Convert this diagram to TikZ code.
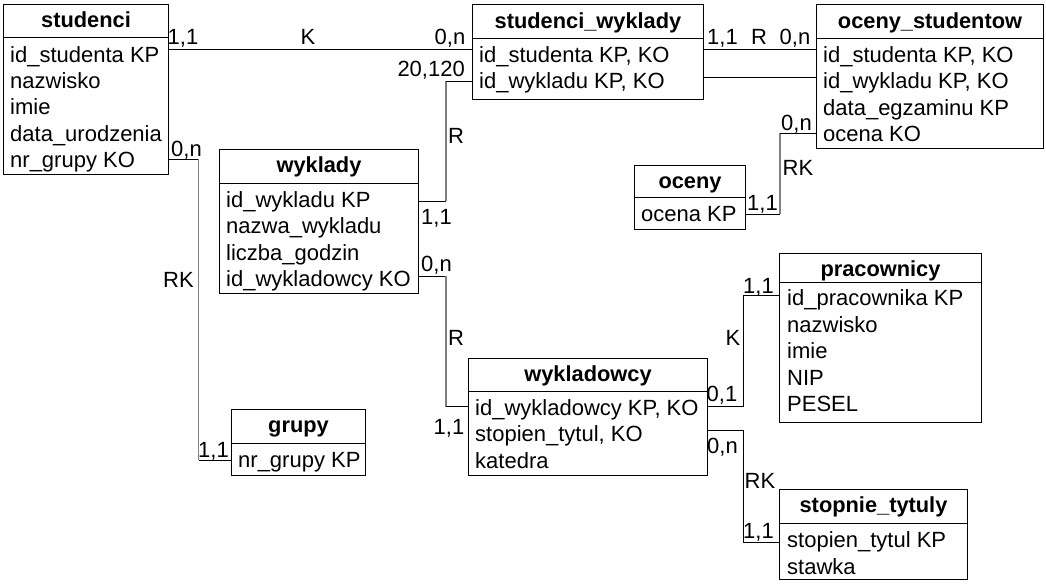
\documentclass[tikz,border=0pt]{standalone}
\usepackage{fontspec}
\setmainfont{Liberation Sans}
\begin{document}
\begin{tikzpicture}[x=1pt,y=-1pt,
  font=\fontsize{22}{26}\selectfont,
  ebox/.style={draw=black,line width=1pt,rectangle,inner sep=0pt,anchor=north west},
  etitle/.style={anchor=base,inner sep=0pt,font=\fontsize{21.8}{26}\selectfont\bfseries},
  erow/.style={anchor=base west,inner sep=0pt},
  lbl/.style={anchor=base,inner sep=0pt},
  divl/.style={line width=1pt},
  conn/.style={line width=1pt,black},
  vconn/.style={line width=1.6pt,black!50},
  vblk/.style={line width=1pt,black}]
\useasboundingbox (0,0) rectangle (1046,584);
% ---------- studenci
\node[ebox,minimum width=165,minimum height=170] (stud) at (3,4) {};
\draw[divl] (stud.west |- 0,37) -- (stud.east |- 0,37);
\node[etitle] (studT) at (stud.north |- 0,27.5) {studenci};
\node[erow] (stud1) at (10,62.3) {id\_studenta KP};
\node[erow] (stud2) at (10,88.6) {nazwisko};
\node[erow] (stud3) at (10,114.9) {imie};
\node[erow] (stud4) at (10,141.2) {data\_urodzenia};
\node[erow] (stud5) at (10,167.5) {nr\_grupy KO};
% ---------- studenci_wyklady
\node[ebox,minimum width=231,minimum height=95] (sw) at (472,4) {};
\draw[divl] (sw.west |- 0,38) -- (sw.east |- 0,38);
\node[etitle] (swT) at (sw.north |- 0,28) {studenci\_wyklady};
\node[erow] (sw1) at (479,62.5) {id\_studenta KP, KO};
\node[erow] (sw2) at (479,88.8) {id\_wykladu KP, KO};
% ---------- oceny_studentow
\node[ebox,minimum width=227,minimum height=144] (os) at (816,4) {};
\draw[divl] (os.west |- 0,38) -- (os.east |- 0,38);
\node[etitle] (osT) at (os.north |- 0,28) {oceny\_studentow};
\node[erow] (os1) at (823,62.5) {id\_studenta KP, KO};
\node[erow] (os2) at (823,88.8) {id\_wykladu KP, KO};
\node[erow] (os3) at (823,115.1) {data\_egzaminu KP};
\node[erow] (os4) at (823,141.4) {ocena KO};
% ---------- oceny
\node[ebox,minimum width=111,minimum height=64] (oc) at (634,165) {};
\draw[divl] (oc.west |- 0,197) -- (oc.east |- 0,197);
\node[etitle] (ocT) at (oc.north |- 0,188.5) {oceny};
\node[erow] (oc1) at (641,221.3) {ocena KP};
% ---------- wyklady
\node[ebox,minimum width=199,minimum height=144] (wy) at (219,149) {};
\draw[divl] (wy.west |- 0,183) -- (wy.east |- 0,183);
\node[etitle] (wyT) at (wy.north |- 0,172.5) {wyklady};
\node[erow] (wy1) at (226,207.5) {id\_wykladu KP};
\node[erow] (wy2) at (226,233.8) {nazwa\_wykladu};
\node[erow] (wy3) at (226,260.1) {liczba\_godzin};
\node[erow] (wy4) at (226,286.4) {id\_wykladowcy KO};
% ---------- pracownicy
\node[ebox,minimum width=202,minimum height=169] (pr) at (779,253) {};
\draw[divl] (pr.west |- 0,282) -- (pr.east |- 0,282);
\node[etitle] (prT) at (pr.north |- 0,276.5) {pracownicy};
\node[erow] (pr1) at (787,305.8) {id\_pracownika KP};
\node[erow] (pr2) at (787,332.3) {nazwisko};
\node[erow] (pr3) at (787,358.8) {imie};
\node[erow] (pr4) at (787,385.1) {NIP};
\node[erow] (pr5) at (787,411.5) {PESEL};
% ---------- wykladowcy
\node[ebox,minimum width=239,minimum height=117] (wk) at (468,358) {};
\draw[divl] (wk.west |- 0,391) -- (wk.east |- 0,391);
\node[etitle] (wkT) at (wk.north |- 0,381.5) {wykladowcy};
\node[erow] (wk1) at (475,415) {id\_wykladowcy KP, KO};
\node[erow] (wk2) at (475,441.6) {stopien\_tytul, KO};
\node[erow] (wk3) at (475,468.2) {katedra};
% ---------- grupy
\node[ebox,minimum width=134,minimum height=66] (gr) at (231,409) {};
\draw[divl] (gr.west |- 0,443) -- (gr.east |- 0,443);
\node[etitle] (grT) at (gr.north |- 0,432.5) {grupy};
\node[erow] (gr1) at (238,467.5) {nr\_grupy KP};
% ---------- stopnie_tytuly
\node[ebox,minimum width=188,minimum height=90] (st) at (779,489) {};
\draw[divl] (st.west |- 0,523) -- (st.east |- 0,523);
\node[etitle] (stT) at (st.north |- 0,512.5) {stopnie\_tytuly};
\node[erow] (st1) at (787,547.5) {stopien\_tytul KP};
\node[erow] (st2) at (787,574) {stawka};
% ================= connectors
% studenci -- studenci_wyklady
\draw[conn] (stud.east |- 0,49) -- (sw.west |- 0,49);
\node[lbl] (l1) at (183,44.5) {1,1};
\node[lbl] (l2) at (308,44.5) {K};
\node[lbl] (l3) at (450,44.5) {0,n};
% wyklady -- studenci_wyklady
\coordinate (a1) at (446,201);
\coordinate (a2) at (446,81);
\draw[conn] (wy.east |- a1) -- (a1);
\draw[vconn] (a1) -- (a2);
\draw[conn] (a2) -- (sw.west |- a2);
\node[lbl,anchor=base east] (l4) at (465,76.3) {20,120};
\node[lbl] (l5) at (456,143) {R};
\node[lbl] (l6) at (436.5,224.5) {1,1};
% studenci_wyklady -- oceny_studentow
\draw[conn] (sw.east |- 0,49) -- (os.west |- 0,49);
\draw[conn] (sw.east |- 0,77) -- (os.west |- 0,77);
\node[lbl] (l7) at (722.5,44.2) {1,1};
\node[lbl] (l8) at (759,44.2) {R};
\node[lbl] (l9) at (795,44.2) {0,n};
% oceny -- oceny_studentow
\coordinate (b1) at (780,214);
\coordinate (b2) at (780,133);
\draw[conn] (oc.east |- b1) -- (b1);
\draw[vconn] (b1) -- (b2);
\draw[conn] (b2) -- (os.west |- b2);
\node[lbl] (l10) at (796.5,130.3) {0,n};
\node[lbl] (l11) at (798,175) {RK};
\node[lbl] (l12) at (762.5,210.3) {1,1};
% wyklady -- wykladowcy
\coordinate (c1) at (446,276);
\coordinate (c2) at (446,406.5);
\draw[conn] (wy.east |- c1) -- (c1);
\draw[vconn] (c1) -- (c2);
\draw[conn] (c2) -- (wk.west |- c2);
\node[lbl] (l13) at (436.5,271) {0,n};
\node[lbl] (l14) at (456,345.3) {R};
\node[lbl] (l15) at (449,434.3) {1,1};
% wykladowcy -- pracownicy
\coordinate (d1) at (743,406);
\coordinate (d2) at (743,295);
\draw[conn] (wk.east |- d1) -- (d1) -- (d2) -- (pr.west |- d2);
\node[lbl] (l16) at (722,401.5) {0,1};
\node[lbl] (l17) at (733,345.3) {K};
\node[lbl] (l18) at (758.5,293.3) {1,1};
% wykladowcy -- stopnie_tytuly
\coordinate (e1) at (743,430);
\coordinate (e2) at (743,542);
\draw[conn] (wk.east |- e1) -- (e1) -- (e2) -- (st.west |- e2);
\node[lbl] (l19) at (722.5,453.5) {0,n};
\node[lbl] (l20) at (760,488.8) {RK};
\node[lbl] (l21) at (758.5,538.2) {1,1};
% studenci -- grupy
\coordinate (f1) at (198.5,159);
\coordinate (f2) at (198.5,460);
\draw[conn] (stud.east |- f1) -- (f1);
\draw[vconn] (f1) -- (f2);
\draw[conn] (f2) -- (gr.west |- f2);
\node[lbl] (l22) at (186.5,156) {0,n};
\node[lbl] (l23) at (178.5,287.5) {RK};
\node[lbl] (l24) at (213.5,457.5) {1,1};
\end{tikzpicture}
\end{document}
